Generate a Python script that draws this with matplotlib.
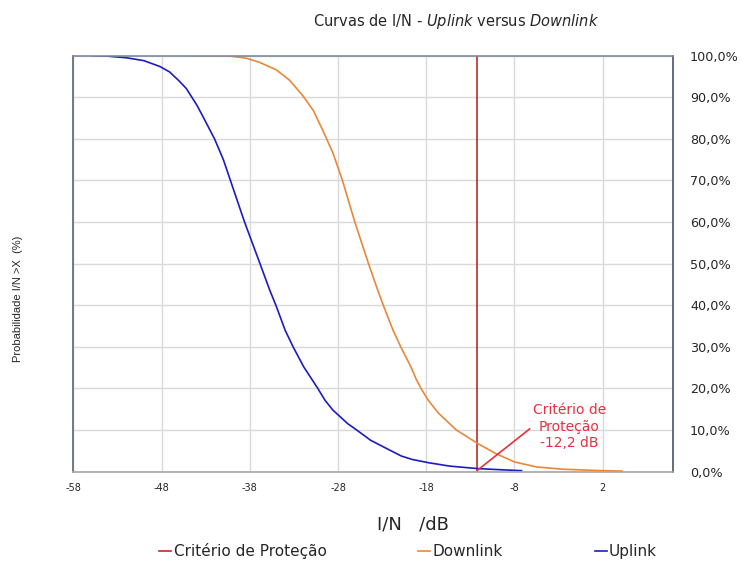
import matplotlib
matplotlib.use("Agg")
import matplotlib.pyplot as plt
from matplotlib.ticker import FuncFormatter

plt.rcParams["axes.unicode_minus"] = False

# ---- data ----
uplink_x = [-55.9, -54.2, -52.0, -50.0, -48.2, -47.1, -46.0, -45.2, -44.0, -43.3,
            -42.0, -41.0, -40.2, -38.6, -36.85, -35.74, -35.05, -34.0, -33.1, -31.9,
            -30.3, -29.5, -28.6, -26.9, -25.9, -24.3, -22.1, -20.8, -19.6, -17.7,
            -15.35, -12.15, -9.8, -7.2]
uplink_y = [100.0, 99.9, 99.5, 98.8, 97.4, 96.1, 93.9, 92.1, 88.1, 85.3,
            80.0, 75.0, 70.0, 60.0, 50.0, 43.6, 40.0, 34.0, 30.0, 25.2,
            20.0, 17.2, 14.8, 11.5, 10.0, 7.5, 5.1, 3.7, 2.9, 2.1,
            1.3, 0.7, 0.45, 0.2]

downlink_x = [-44.6, -40.6, -38.4, -36.9, -35.0, -33.5, -32.0, -30.8, -29.7, -28.6,
              -27.5, -26.1, -24.55, -23.5, -22.88, -21.77, -20.9, -19.75, -19.1, -18.6,
              -17.8, -16.6, -14.6, -12.15, -10.1, -8.0, -5.5, -2.5, 1.3, 4.2]
downlink_y = [100.0, 100.0, 99.4, 98.4, 96.6, 94.1, 90.4, 86.8, 81.9, 76.7,
              70.0, 60.0, 50.0, 43.6, 40.0, 34.0, 30.0, 25.2, 22.0, 20.0,
              17.2, 14.0, 10.0, 6.7, 4.3, 2.3, 1.1, 0.55, 0.25, 0.1]

criterio_db = -12.2
x_ticks = [-58, -48, -38, -28, -18, -8, 2]
y_ticks = [0, 10, 20, 30, 40, 50, 60, 70, 80, 90, 100]

# ---- figure ----
fig = plt.figure(figsize=(7.42, 5.63), dpi=100)
ax = fig.add_axes([0.0989, 0.1625, 0.8085, 0.7386])

ax.set_xlim(-58, 10)
ax.set_ylim(0, 100)

ax.grid(True, color="#d9d9d9", lw=1.0)
ax.set_axisbelow(True)

l_crit = ax.axvline(criterio_db, 0, 1, color="#c0282d", lw=1.2, label="Critério de Proteção")
l_down, = ax.plot(downlink_x, downlink_y, color="#e8883a", lw=1.2, label="Downlink")
l_up, = ax.plot(uplink_x, uplink_y, color="#1c1cc0", lw=1.2, label="Uplink")

ax.set_xticks(x_ticks)
ax.set_yticks(y_ticks)
ax.yaxis.tick_right()
ax.yaxis.set_major_formatter(FuncFormatter(lambda v, p: f"{v:.1f}".replace(".", ",") + "%"))
ax.tick_params(axis="y", length=0, pad=12, labelsize=9.2, labelcolor="#262626")
ax.tick_params(axis="x", length=0, pad=8, labelsize=7, labelcolor="#262626")

ax.spines["left"].set_color("#5b6577")
ax.spines["right"].set_color("#4a5466")
ax.spines["top"].set_color("#7f8a99")
ax.spines["bottom"].set_color("#a6a6a6")
for s in ax.spines.values():
    s.set_linewidth(1.2)

# annotation
ax.annotate("Critério de\nProteção\n-12,2 dB", xy=(criterio_db, 0.3), xytext=(-1.8, 10.8),
            ha="center", va="center", color="#e8303f", fontsize=10, linespacing=1.25,
            arrowprops=dict(arrowstyle="-", color="#e8303f", lw=1.2,
                            shrinkA=0, shrinkB=0,
                            relpos=(0.0, 0.5)),
            annotation_clip=False)

# title
fig.text(0.615, 0.961, r"Curvas de I/N - $\mathit{Uplink}$ versus $\mathit{Downlink}$",
         ha="center", va="center", fontsize=10.5, color="#262626")

# axis labels
fig.text(0.556, 0.069, "I/N   /dB", ha="center", va="center", fontsize=13, color="#262626")
fig.text(0.024, 0.47, "Probabilidade I/N >X  (%)", rotation=90, ha="center", va="center",
         fontsize=8, color="#262626", family=["Liberation Sans Narrow", "Liberation Sans", "DejaVu Sans"])

# legend
fig.legend(handles=[l_crit, l_down, l_up], loc="center", bbox_to_anchor=(0.55, 0.021),
           ncol=3, frameon=False, fontsize=11, handlelength=0.8, handletextpad=0.15,
           columnspacing=6.0, labelcolor="#262626")

fig.savefig("out.png", dpi=100)
